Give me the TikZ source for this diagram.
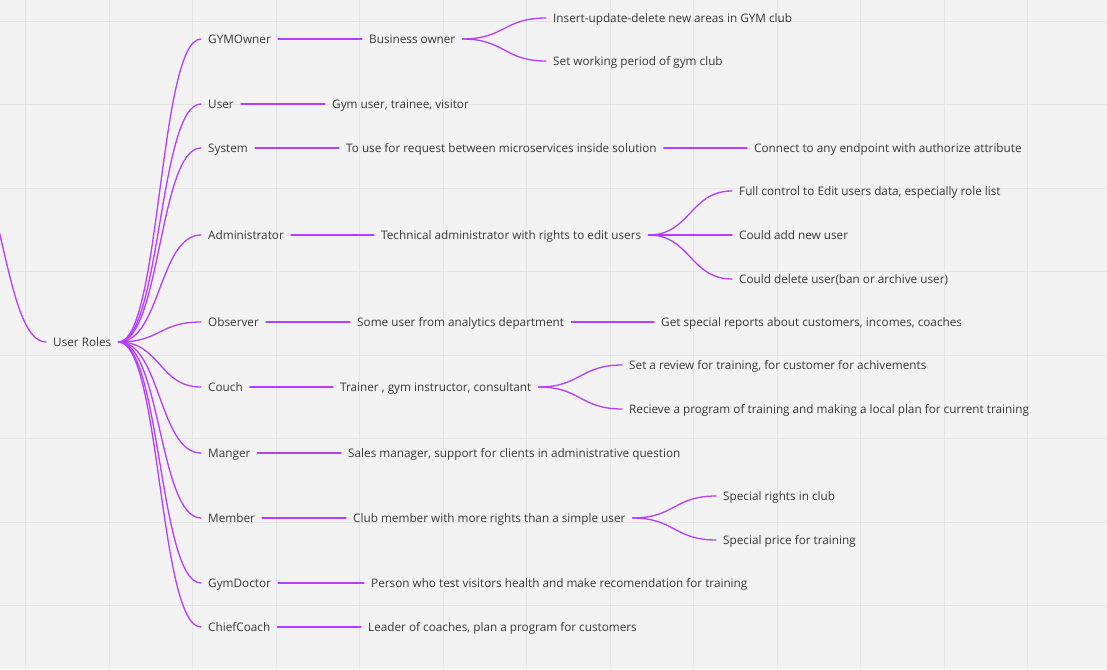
\documentclass[tikz,border=0pt]{standalone}
\usepackage{fontspec}
\setmainfont{Open Sans}
\definecolor{linkcol}{RGB}{180,62,250}
\definecolor{txtcol}{RGB}{55,55,55}
\definecolor{bgcol}{RGB}{242,242,242}
\definecolor{gridcol}{RGB}{229,229,229}
\tikzset{
	role/.style={anchor=west,inner xsep=7pt,inner ysep=1pt,text height=8.3pt,text depth=0pt,text=txtcol,font=\fontsize{11.75}{14}\selectfont},
	link/.style={draw=linkcol,line width=1.3pt},
	fan/.style={to path={.. controls +(42,0) and +(-42,0) .. (\tikztotarget)}}
}
\begin{document}
\begin{tikzpicture}[x=1pt,y=-1pt,line cap=round,line join=round]
	\useasboundingbox (0,0) rectangle (1107,669);
	\fill[bgcol] (0,0) rectangle (1107,669);
	\clip (0,0) rectangle (1107,669);
	\foreach \i in {0,...,12}
	\draw[gridcol,line width=0.8pt] (25.7+83.5*\i,0) -- (25.7+83.5*\i,669);
	\foreach \j in {0,...,7}
	\draw[gridcol,line width=0.8pt] (0,21+83.5*\j) -- (1107,21+83.5*\j);
	\path
	(-39,158)coordinate(P)
	(46,342)node[role](root){User Roles}
	(201,39)node[role](own){GYMOwner}
	(201,104)node[role](usr){User}
	(201,148)node[role](sys){System}
	(201,235)node[role](adm){Administrator}
	(201,322)node[role](obs){Observer}
	(201,387)node[role](cch){Couch}
	(201,453)node[role](mgr){Manger}
	(201,518)node[role](mem){Member}
	(201,583)node[role](doc){GymDoctor}
	(201,627)node[role](chf){ChiefCoach}
	(362,39)node[role](biz){Business owner}
	(546,18)node[role](own1){Insert-update-delete new areas in GYM club}
	(546,61)node[role](own2){Set working period of gym club}
	(325,104)node[role](gym){Gym user, trainee, visitor}
	(339,148)node[role](req){To use for request between microservices inside solution}
	(747,148)node[role](sys1){Connect to any endpoint with authorize attribute}
	(374,235)node[role](tech){Technical administrator with rights to edit users}
	(732,191)node[role](adm1){Full control to Edit users data, especially role list}
	(732,235)node[role](adm2){Could add new user}
	(732,279)node[role](adm3){Could delete user(ban or archive user)}
	(350,322)node[role](ana){Some user from analytics department}
	(654,322)node[role](obs1){Get special reports about customers, incomes, coaches}
	(333,387)node[role](trn){Trainer , gym instructor, consultant}
	(622,365)node[role](cch1){Set a review for training, for customer for achivements}
	(622,409)node[role](cch2){Recieve a program of training and making a local plan for current training}
	(341,453)node[role](sal){Sales manager, support for clients in administrative question}
	(346,518)node[role](clb){Club member with more rights than a simple user}
	(716,496)node[role](mem1){Special rights in club}
	(716,540)node[role](mem2){Special price for training}
	(364,583)node[role](per){Person who test visitors health and make recomendation for training}
	(361,627)node[role](lead){Leader of coaches, plan a program for customers}
	;
	\draw[link,fan](P)to(root.west);
	\draw[link,fan](root.east)to(own.west);
	\draw[link,fan](root.east)to(usr.west);
	\draw[link,fan](root.east)to(sys.west);
	\draw[link,fan](root.east)to(adm.west);
	\draw[link,fan](root.east)to(obs.west);
	\draw[link,fan](root.east)to(cch.west);
	\draw[link,fan](root.east)to(mgr.west);
	\draw[link,fan](root.east)to(mem.west);
	\draw[link,fan](root.east)to(doc.west);
	\draw[link,fan](root.east)to(chf.west);
	\draw[link](own.east)--(biz.west);
	\draw[link,fan](biz.east)to(own1.west);
	\draw[link,fan](biz.east)to(own2.west);
	\draw[link](usr.east)--(gym.west);
	\draw[link](sys.east)--(req.west);
	\draw[link](req.east)--(sys1.west);
	\draw[link](adm.east)--(tech.west);
	\draw[link,fan](tech.east)to(adm1.west);
	\draw[link](tech.east)--(adm2.west);
	\draw[link,fan](tech.east)to(adm3.west);
	\draw[link](obs.east)--(ana.west);
	\draw[link](ana.east)--(obs1.west);
	\draw[link](cch.east)--(trn.west);
	\draw[link,fan](trn.east)to(cch1.west);
	\draw[link,fan](trn.east)to(cch2.west);
	\draw[link](mgr.east)--(sal.west);
	\draw[link](mem.east)--(clb.west);
	\draw[link,fan](clb.east)to(mem1.west);
	\draw[link,fan](clb.east)to(mem2.west);
	\draw[link](doc.east)--(per.west);
	\draw[link](chf.east)--(lead.west);
\end{tikzpicture}
\end{document}
